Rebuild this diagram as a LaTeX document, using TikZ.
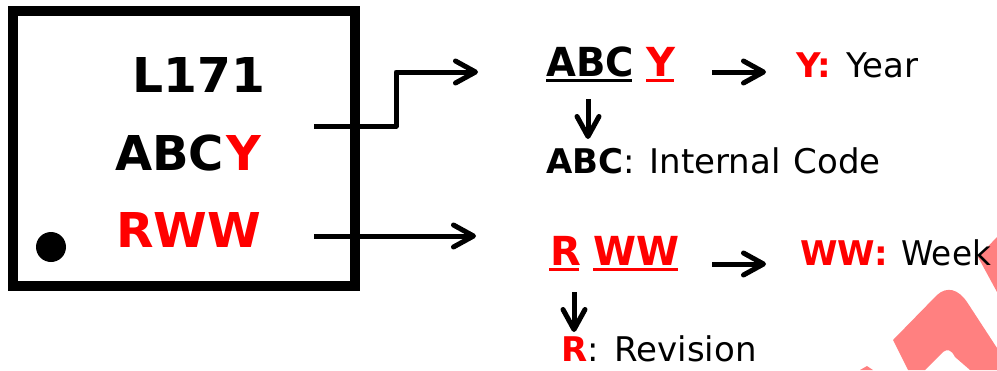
\documentclass[tikz,border=0pt]{standalone}
\usepackage{fontspec}
\setmainfont{DejaVu Sans}
\usetikzlibrary{arrows.meta}
\definecolor{wm}{RGB}{255,128,128}
\tikzset{
  x=1pt,y=-1pt,
  arr/.style={line width=5pt,line join=round,-{Straight Barb[length=20pt,width=22pt,line width=5pt,round]}},
  lbl/.style={inner sep=0pt,anchor=base west},
  ul/.style={line width=3pt},
}
\newcommand{\fsz}[1]{\fontsize{#1}{#1}\selectfont}
\begin{document}
\begin{tikzpicture}
\useasboundingbox (0,0) rectangle (997,370);
% watermark
\fill[wm] (893,340) -- (937,295) .. controls (947,286) and (958,289) .. (967,302) -- (997,348) -- (997,370) -- (970,370) -- (955,357) .. controls (951,349) and (947,349) .. (943,352) -- (925,370) -- (908,370) -- cycle;
\fill[wm] (978,257) -- (997,237) -- (997,292) -- cycle;
\fill[wm] (860,370) -- (867,366) -- (873,370) -- cycle;
% chip
\draw[line width=10pt] (13,11) rectangle (355,286);
\node[circle,fill=black,minimum size=30pt,inner sep=0pt] (dot) at (51,247) {};
\node[lbl,xscale=1.015] (l) at (132,92) {\fsz{48}\bfseries L171};
\node[lbl] (abc) at (115,170) {\fsz{48}\bfseries ABC\hspace{2pt}\textcolor{red}{Y}};
\node[lbl,xscale=1.015] (rww) at (116,247) {\fsz{48}\bfseries\color{red} RWW};
% connectors
\coordinate (a1) at (314,126);
\coordinate (a2) at (396,126);
\coordinate (a3) at (396,72);
\coordinate (a4) at (478,72);
\coordinate (b1) at (314,236);
\coordinate (b2) at (476,236);
\draw[arr] (a1) -- (a2) -- (a3) -- (a4);
\draw[arr] (b1) -- (b2);
% top group
\node[lbl,xscale=0.965] (tabc) at (546,76) {\fsz{40}\bfseries ABC};
\node[lbl] (ty) at (646,76) {\fsz{40}\bfseries\color{red} Y};
\draw[ul] (546,80.5) -- (632,80.5);
\draw[ul,red] (646,80.5) -- (674,80.5);
\coordinate (c1) at (712,72); \coordinate (c2) at (766,72);
\draw[arr] (c1) -- (c2);
\node[lbl] (ylab) at (796,77) {\fsz{34}{\bfseries\color{red} Y:} \hspace{4pt}Year};
\coordinate (d1) at (588,99); \coordinate (d2) at (588,139);
\draw[arr] (d1) -- (d2);
\node[lbl] (code) at (546,173) {\fsz{34}{\bfseries ABC}: \hspace{4pt}Internal \hspace{2pt}Code};
% bottom group
\node[lbl] (br) at (550,265) {\fsz{40}\bfseries\color{red} R};
\node[lbl,xscale=0.975] (bww) at (593,265) {\fsz{40}\bfseries\color{red} WW};
\draw[ul,red] (549,269) -- (579,269);
\draw[ul,red] (593,269) -- (678,269);
\coordinate (e1) at (712,264); \coordinate (e2) at (766,264);
\draw[arr] (e1) -- (e2);
\node[lbl] (wlab) at (800,265) {\fsz{34}{\bfseries\color{red} WW:} \hspace{3pt}\scalebox{0.96}[1]{Week}};
\coordinate (f1) at (574,292); \coordinate (f2) at (574,332);
\draw[arr] (f1) -- (f2);
\node[lbl] (rev) at (561,361) {\fsz{34}{\bfseries\color{red} R}: \hspace{5pt}Revision};
\end{tikzpicture}
\end{document}
